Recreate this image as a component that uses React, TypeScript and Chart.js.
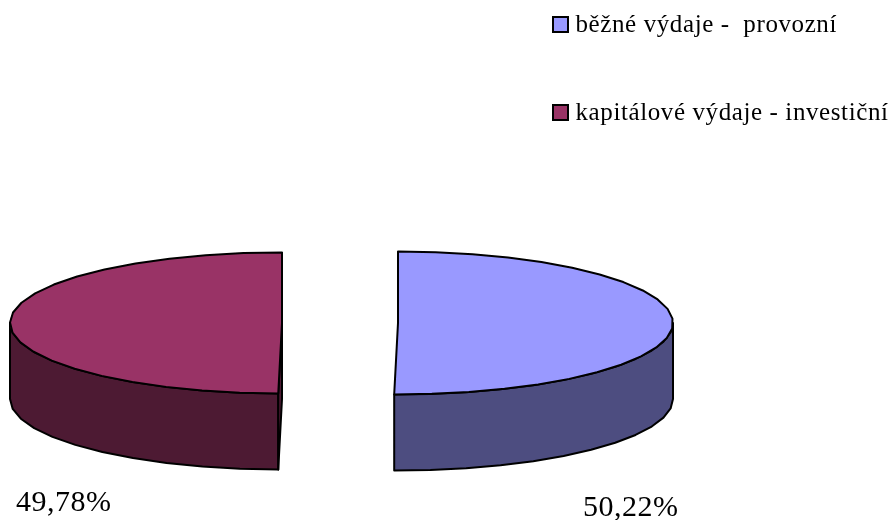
import React, { useEffect, useRef } from "react";
import { Chart, registerables } from "chart.js";

Chart.register(...registerables);

const categories = ["běžné výdaje -  provozní", "kapitálové výdaje - investiční"];
const shares = [50.22, 49.78];
const shareLabels = ["50,22%", "49,78%"];
const topColors = ["#9999ff", "#993366"];
const sideColors = ["#4d4d80", "#4d1a33"];
const sliceShifts = [59.5, -56.5];
const sliceRadii = [275, 272];
const labelAnchors = [
  [583, 516],
  [16, 510.5],
];

const SQUASH = 0.2596;
const DEPTH = 76;
const STEP = Math.PI / 22;

function geom(arc: any) {
  return {
    cx: arc.x,
    cy: arc.y,
    rx: arc.outerRadius,
    ry: arc.outerRadius * SQUASH,
  };
}

function rimPoints(g: any, a0: number, a1: number) {
  const pts: [number, number][] = [];
  const n = Math.max(1, Math.ceil((a1 - a0) / STEP));
  for (let i = 0; i <= n; i++) {
    const a = a0 + ((a1 - a0) * i) / n;
    pts.push([g.cx + g.rx * Math.cos(a), g.cy + g.ry * Math.sin(a)]);
  }
  return pts;
}

function poly(ctx: CanvasRenderingContext2D, pts: [number, number][], fill?: string) {
  ctx.beginPath();
  pts.forEach((p, i) => (i ? ctx.lineTo(p[0], p[1]) : ctx.moveTo(p[0], p[1])));
  ctx.closePath();
  if (fill) {
    ctx.fillStyle = fill;
    ctx.fill();
  }
  ctx.stroke();
}

function swatch(color: string) {
  const c = document.createElement("canvas");
  c.width = 17;
  c.height = 19;
  const x = c.getContext("2d")!;
  x.fillStyle = color;
  x.fillRect(1, 1, 15, 15);
  x.strokeStyle = "#000";
  x.lineWidth = 2;
  x.strokeRect(1, 1, 15, 15);
  return c;
}

const pie3d = {
  id: "pie3d",
  afterDatasetsUpdate(chart: any) {
    chart.getDatasetMeta(0).data.forEach((arc: any, i: number) => {
      arc.x += sliceShifts[i];
      arc.outerRadius = sliceRadii[i];
    });
  },
  beforeDraw(chart: any) {
    const lg = chart.legend;
    lg.left = 558 - 63;
    lg.right = 893;
    lg.width = lg.right - lg.left;
    lg.top = 13 - 63;
    lg.bottom = 520;
    lg.height = lg.bottom - lg.top;
    (chart.ctx as any).letterSpacing = "0.6px";
  },
  beforeDatasetsDraw(chart: any) {
    const ctx = chart.ctx as CanvasRenderingContext2D;
    const arcs = chart.getDatasetMeta(0).data;
    ctx.save();
    ctx.strokeStyle = "#000";
    ctx.lineWidth = 2;
    ctx.lineJoin = "round";
    arcs.forEach((arc: any, i: number) => {
      const g = geom(arc);
      const a0 = Math.max(arc.startAngle, 0);
      const a1 = Math.min(arc.endAngle, Math.PI);
      if (a1 > a0) {
        const rim = rimPoints(g, a0, a1);
        const low = rim.map((p) => [p[0], p[1] + DEPTH] as [number, number]).reverse();
        poly(ctx, [...rim, ...low], sideColors[i]);
      }
      if (Math.cos(arc.startAngle) < -1e-6) {
        const p = rimPoints(g, arc.startAngle, arc.startAngle)[0];
        poly(
          ctx,
          [
            [g.cx, g.cy],
            [p[0], p[1]],
            [p[0], p[1] + DEPTH],
            [g.cx, g.cy + DEPTH],
          ],
          sideColors[i]
        );
      }
    });
    ctx.restore();
    ctx.save();
    const cy = chart.chartArea.top + chart.chartArea.height / 2;
    ctx.translate(0, cy);
    ctx.scale(1, SQUASH);
    ctx.translate(0, -cy);
  },
  afterDatasetsDraw(chart: any) {
    const ctx = chart.ctx as CanvasRenderingContext2D;
    ctx.restore();
    const arcs = chart.getDatasetMeta(0).data;
    ctx.save();
    ctx.strokeStyle = "#000";
    ctx.lineWidth = 2;
    ctx.lineJoin = "round";
    arcs.forEach((arc: any) => {
      const g = geom(arc);
      poly(ctx, [[g.cx, g.cy], ...rimPoints(g, arc.startAngle, arc.endAngle)]);
    });
    ctx.fillStyle = "#000";
    ctx.font = '30px "Liberation Serif"';
    (ctx as any).letterSpacing = "0.5px";
    ctx.textBaseline = "alphabetic";
    shareLabels.forEach((t, i) => ctx.fillText(t, labelAnchors[i][0], labelAnchors[i][1]));
    ctx.restore();
  },
};

export default function App() {
  const ref = useRef<HTMLCanvasElement>(null);
  useEffect(() => {
    const chart = new Chart(ref.current!, {
      type: "pie",
      data: {
        labels: categories,
        datasets: [
          {
            data: shares,
            backgroundColor: topColors,
            borderWidth: 0,
          },
        ],
      },
      plugins: [pie3d],
      options: {
        animation: false,
        responsive: false,
        radius: 273,
        layout: { padding: { right: 216, top: 126 } },
        plugins: {
          tooltip: { enabled: false },
          legend: {
            position: "chartArea",
            align: "start",
            labels: {
              usePointStyle: true,
              boxWidth: 5,
              boxHeight: 15,
              padding: 63,
              color: "#000",
              font: { family: '"Liberation Serif"', size: 25 },
              generateLabels(c: any) {
                const base = (Chart as any).overrides.doughnut.plugins.legend.labels.generateLabels(c);
                return base.map((l: any, i: number) => ({ ...l, pointStyle: swatch(topColors[i]) }));
              },
            },
          },
        },
      },
    } as any);
    return () => chart.destroy();
  }, []);
  return (
    <canvas
      ref={ref}
      width={893}
      height={520}
      style={{ position: "fixed", left: 0, top: 0, width: 893, height: 520, display: "block" }}
    />
  );
}
